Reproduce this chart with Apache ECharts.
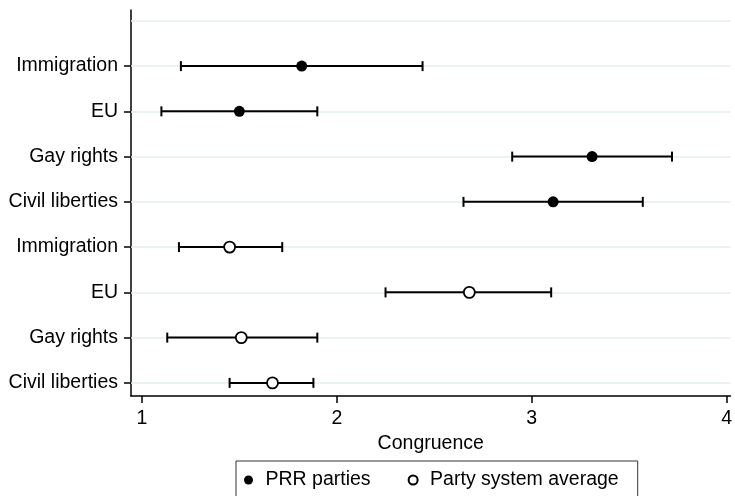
<!DOCTYPE html>
<html>
<head>
<meta charset="UTF-8">
<title>Congruence</title>
<script src="https://cdn.jsdelivr.net/npm/echarts@6/dist/echarts.min.js"></script>
<style>
  html, body { margin: 0; padding: 0; background: #fff; }
  #chart { width: 735px; height: 496px; }
</style>
</head>
<body>
<div id="chart"></div>
<script>
// rows top to bottom within each block
var topics = ['Immigration', 'EU', 'Gay rights', 'Civil liberties'];

// PRR parties (filled dots)
var prrMean = [1.82, 1.50, 3.31, 3.11];
var prrLow  = [1.20, 1.10, 2.90, 2.65];
var prrHigh = [2.44, 1.90, 3.72, 3.57];

// party system average (hollow dots)
var avgMean = [1.45, 2.68, 1.51, 1.67];
var avgLow  = [1.19, 2.25, 1.13, 1.45];
var avgHigh = [1.72, 3.10, 1.90, 1.88];

var xTicks = [1, 2, 3, 4];
var rowPos = [1, 2, 3, 4, 5, 6, 7, 8];
var gridRows = [1, 2, 3, 4, 5, 6, 7, 8, 9];

// y labels bottom -> top
var rowLabels = topics.slice().reverse().concat(topics.slice().reverse());

function points(mean, offset) {
  return mean.map(function (v, i) { return [v, offset - i]; });
}
function bars(lo, hi, offset) {
  return lo.map(function (v, i) { return [v, hi[i], offset - i]; });
}

var FONT = '"Liberation Sans", Arial, sans-serif';
var FS = 19.5;

function renderBar(params, api) {
  var a = api.coord([api.value(0), api.value(2)]);
  var b = api.coord([api.value(1), api.value(2)]);
  var h = 5;
  var st = { stroke: '#000', lineWidth: 2 };
  return {
    type: 'group',
    children: [
      { type: 'line', shape: { x1: a[0], y1: a[1], x2: b[0], y2: b[1] }, style: st },
      { type: 'line', shape: { x1: a[0], y1: a[1] - h, x2: a[0], y2: a[1] + h }, style: st },
      { type: 'line', shape: { x1: b[0], y1: b[1] - h, x2: b[0], y2: b[1] + h }, style: st }
    ]
  };
}

var chart = echarts.init(document.getElementById('chart'));
chart.setOption({
  animation: false,
  textStyle: { fontFamily: FONT, color: '#000' },
  grid: { left: 131, right: 0, top: 10, bottom: 100 },
  legend: {
    left: 236, top: 461,
    padding: [9, 19, 30, 8],
    itemGap: 37,
    itemWidth: 18, itemHeight: 9,
    borderColor: '#333', borderWidth: 1,
    textStyle: { fontFamily: FONT, fontSize: FS, color: '#000', padding: [0, 0, 0, 3] },
    data: [
      { name: 'PRR parties', icon: 'circle', itemStyle: { color: '#000' } },
      { name: 'Party system average', icon: 'emptyCircle', itemStyle: { color: '#000', borderColor: '#000', borderWidth: 1.3 } }
    ]
  },
  xAxis: {
    type: 'value', min: 0.944, max: 4.02,
    name: 'Congruence', nameLocation: 'middle', nameGap: 33,
    nameTextStyle: { fontFamily: FONT, fontSize: FS, color: '#000' },
    axisLine: { lineStyle: { color: '#000', width: 1.5 } },
    axisTick: { show: true, length: 7, customValues: xTicks, lineStyle: { color: '#000', width: 1.5 } },
    axisLabel: { customValues: xTicks, margin: 13, fontSize: FS, color: '#000', fontFamily: FONT },
    splitLine: { show: false }
  },
  yAxis: {
    type: 'value', min: 0.71, max: 9.24,
    axisLine: { show: true, lineStyle: { color: '#000', width: 1.5 } },
    axisTick: { show: true, length: 7, customValues: rowPos, lineStyle: { color: '#000', width: 1.5 } },
    axisLabel: {
      customValues: rowPos, margin: 13, fontSize: FS, color: '#000', fontFamily: FONT,
      formatter: function (v) { return rowLabels[Math.round(v) - 1] || ''; }
    },
    splitLine: { show: false }
  },
  series: [
    {
      // background grid lines
      type: 'scatter', name: 'grid', z: 1, silent: true, data: [],
      markLine: {
        z: 1, silent: true, symbol: 'none', label: { show: false },
        lineStyle: { color: '#e3eef1', width: 1.5, type: 'solid' },
        data: gridRows.map(function (r) { return { yAxis: r }; })
      }
    },
    {
      type: 'custom', name: 'prrBars', renderItem: renderBar, z: 3,
      encode: { x: [0, 1], y: 2 },
      data: bars(prrLow, prrHigh, 8)
    },
    {
      type: 'custom', name: 'avgBars', renderItem: renderBar, z: 3,
      encode: { x: [0, 1], y: 2 },
      data: bars(avgLow, avgHigh, 4)
    },
    {
      type: 'scatter', name: 'PRR parties', symbol: 'circle', symbolSize: 11, z: 5,
      itemStyle: { color: '#000', opacity: 1 },
      data: points(prrMean, 8)
    },
    {
      type: 'scatter', name: 'Party system average', symbol: 'circle', symbolSize: 11, z: 5,
      itemStyle: { color: '#fff', borderColor: '#000', borderWidth: 1.8, opacity: 1 },
      data: points(avgMean, 4)
    }
  ]
});
</script>
</body>
</html>
